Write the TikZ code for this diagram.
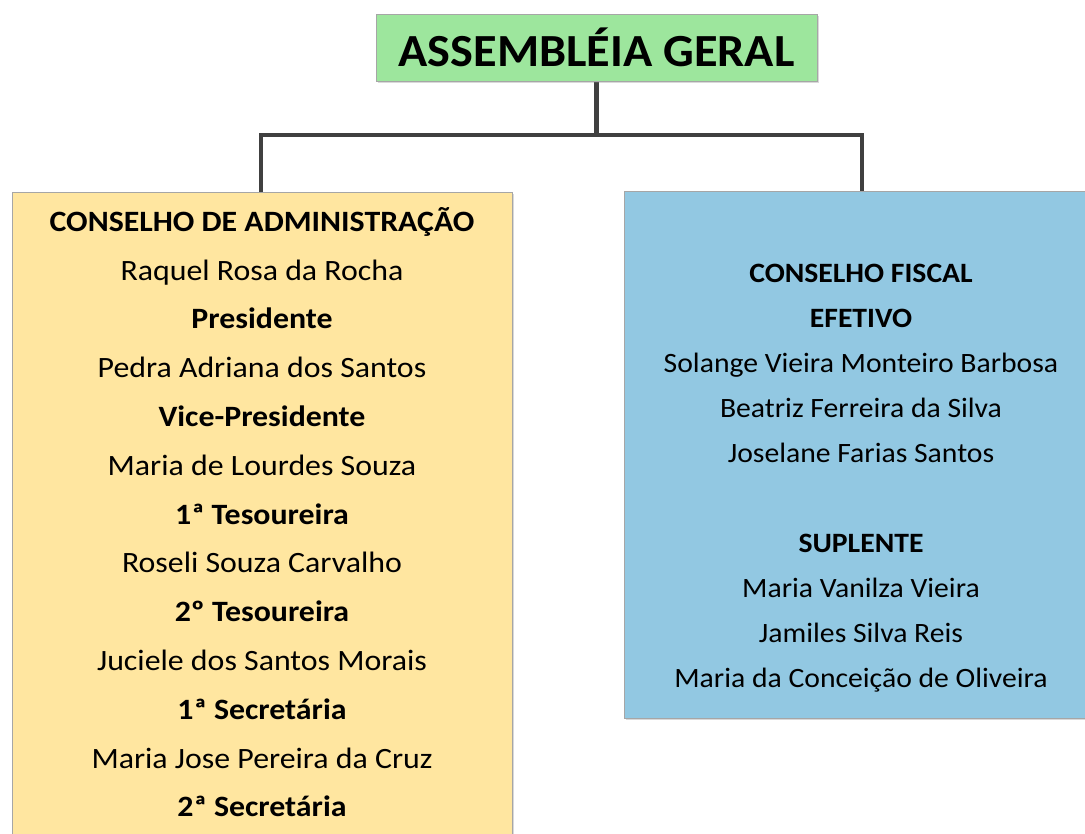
\documentclass[tikz,border=0pt]{standalone}
\usepackage{fontspec}
\setmainfont{Carlito}
\usetikzlibrary{positioning,shadows}

\definecolor{verdeAG}{RGB}{157,230,157}
\definecolor{amareloCA}{RGB}{255,230,160}
\definecolor{azulCF}{RGB}{146,200,226}

\begin{document}
\begin{tikzpicture}[x=1pt, y=-1pt, line join=miter]
	% ---- estilos ----
	\tikzset{caixa/.style={draw=black!35, line width=0.8pt, inner sep=0pt,
			drop shadow={shadow xshift=2pt, shadow yshift=-2pt, opacity=0.3}},
		ligacao/.style={draw=black!75, line width=4.5pt},
		linhaCA/.style={font=\fontsize{29.5}{32}\selectfont, xscale=1.08, text height=18.5pt,
			text depth=0pt, inner sep=0pt},
		linhaCF/.style={font=\fontsize{28}{30}\selectfont, xscale=1.06, text height=17.5pt,
			text depth=0pt, inner sep=0pt}}
	
	\useasboundingbox (0,0) rectangle (1085,834);
	\clip (0,0) rectangle (1085,834);
	
	% ---- ligacoes (vem antes para ficar por baixo) ----
	\coordinate (juncao) at (596.5,135);
	\coordinate (topoCA) at (261,192);
	\coordinate (topoCF) at (862,192);
	\coordinate (baseAG) at (596.5,81);
	\draw[ligacao] (baseAG) -- (juncao);
	\draw[ligacao] (topoCA) |- (juncao) -| (topoCF);
	
	% ---- caixas ----
	\node[caixa, fill=verdeAG, minimum width=441pt, minimum height=67pt] (geral) at (596.5,47.5) {};
	\node[caixa, fill=amareloCA, minimum width=500pt, minimum height=708pt] (adm) at (262,546) {};
	\node[caixa, fill=azulCF, minimum width=476pt, minimum height=527pt] (fiscal) at (862,454.5) {};
	
	% ---- textos ----
	\node[font=\fontsize{46}{50}\selectfont\bfseries, xscale=1.05, inner sep=0pt] (titulo) at (geral.center) {ASSEMBLÉIA GERAL};
	
	\foreach \t [count=\i from 0] in {{\bfseries CONSELHO DE ADMINISTRAÇÃO}, Raquel Rosa da Rocha,
		{\bfseries Presidente}, Pedra Adriana dos Santos, {\bfseries Vice-Presidente},
		Maria de Lourdes Souza, {\bfseries 1ª Tesoureira}, Roseli Souza Carvalho,
		{\bfseries 2º Tesoureira}, Juciele dos Santos Morais, {\bfseries 1ª Secretária},
		Maria Jose Pereira da Cruz, {\bfseries 2ª Secretária}}
	\node[linhaCA] (ca\i) at (262,222+48.8*\i) {\t};
	
	\foreach \y/\t [count=\i] in {274/{\bfseries CONSELHO FISCAL}, 319/{\bfseries EFETIVO},
		364/Solange Vieira Monteiro Barbosa, 409/Beatriz Ferreira da Silva,
		454/Joselane Farias Santos, 544/{\bfseries SUPLENTE},
		589/Maria Vanilza Vieira, 634/Jamiles Silva Reis,
		679/Maria da Conceição de Oliveira}
	\node[linhaCF] (cf\i) at (861,\y) {\t};
\end{tikzpicture}
\end{document}
